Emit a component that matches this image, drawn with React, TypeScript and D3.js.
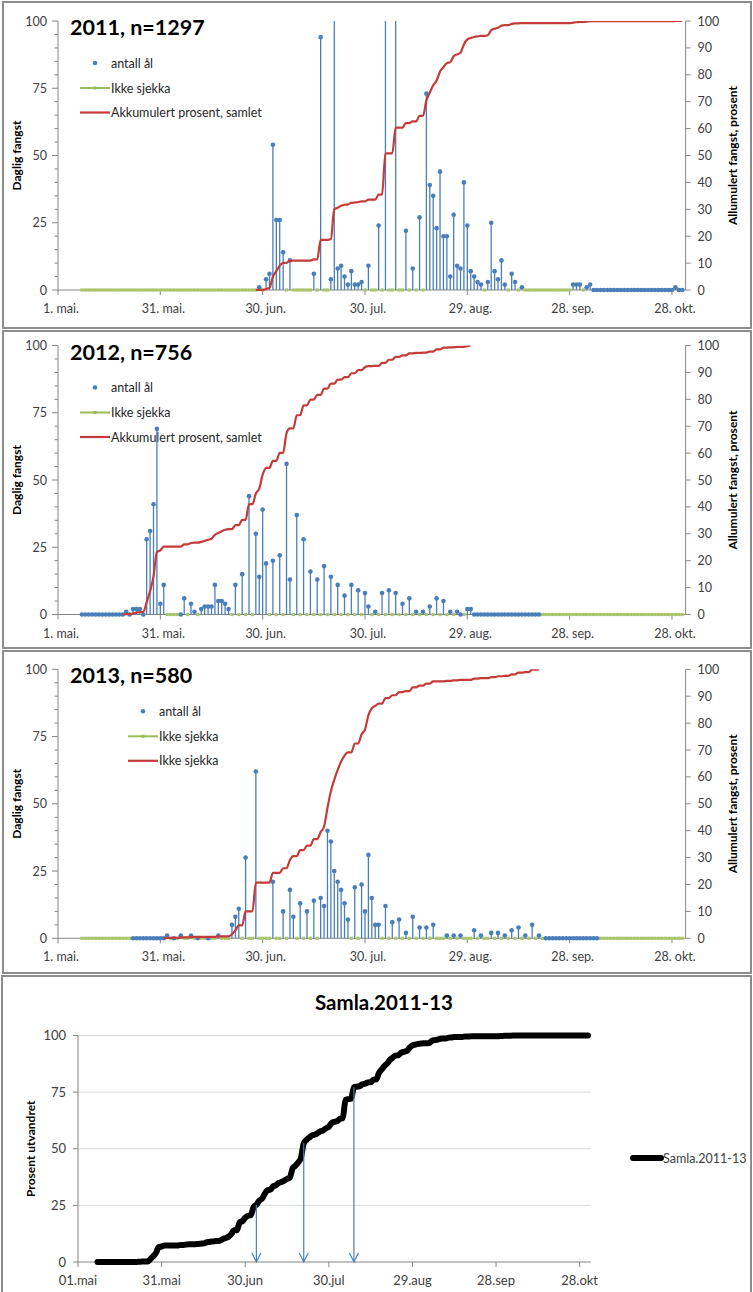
import React from 'react';
import * as d3 from 'd3';

// null = "Ikke sjekka" (trap not checked that day)
const _ = null;

// first day in every series is 8. mai (day 7 counted from 1. mai)
const FIRST_DAY = 7;

const catch2011: (number | null)[] = [
  _, _, _, _, _, _, _, _, _, _,
  _, _, _, _, _, _, _, _, _, _,
  _, _, _, _, _, _, _, _, _, _,
  _, _, _, _, _, _, _, _, _, _,
  _, _, _, _, _, _, _, _, _, _,
  _, _, 1, _, 4, 6, 54, 26, 26, 14,
  _, 11, _, _, _, _, _, _, 6, _,
  94, _, _, 4, 143, 8, 9, 5, 2, 7,
  2, 2, 3, _, 9, _, _, 24, _, 199,
  _, _, 124, _, _, 22, _, 8, _, 27,
  _, 73, 39, 35, 23, 44, 20, 20, 5, 28,
  9, 8, 40, 24, 7, 5, 3, 2, _, 3,
  25, 7, 4, 11, 2, _, 6, 3, _, 1,
  _, _, _, _, _, _, _, _, _, _,
  _, _, _, _, 2, 2, 2, _, 1, 2,
  0, 0, 0, 0, 0, 0, 0, 0, 0, 0,
  0, 0, 0, 0, 0, 0, 0, 0, 0, 0,
  0, 0, 0, 0, 1, 0, 0,
];

const catch2012: (number | null)[] = [
  0, 0, 0, 0, 0, 0, 0, 0, 0, 0,
  0, 0, 0, 1, 0, 2, 2, 2, 0, 28,
  31, 41, 69, 4, 11, _, _, _, _, 0,
  6, _, 4, 1, _, 2, 3, 3, 3, 11,
  5, 5, 4, 2, _, 11, _, 15, _, 44,
  _, 30, 14, 39, 19, _, 20, _, 22, _,
  56, 13, _, 37, _, 28, _, 16, _, 13,
  _, 18, _, 14, _, 11, _, 7, _, 11,
  _, 9, _, 8, 3, _, 1, _, 8, _,
  9, _, 8, _, 4, _, 6, _, 1, _,
  1, _, 3, _, 6, _, 5, _, 1, _,
  1, 0, _, 2, 2, 0, 0, 0, 0, 0,
  0, 0, 0, 0, 0, 0, 0, 0, 0, 0,
  0, 0, 0, 0, 0, _, _, _, _, _,
  _, _, _, _, _, _, _, _, _, _,
  _, _, _, _, _, _, _, _, _, _,
  _, _, _, _, _, _, _, _, _, _,
  _, _, _, _, _, _, _,
];

const catch2013: (number | null)[] = [
  _, _, _, _, _, _, _, _, _, _,
  _, _, _, _, _, 0, 0, 0, 0, 0,
  0, 0, 0, 0, 0, 1, _, 0, _, 1,
  _, _, 1, _, 0, _, _, 0, _, _,
  1, _, _, _, 5, 8, 11, _, 30, _,
  _, 62, _, _, _, _, 21, _, _, 10,
  _, 18, 8, _, 13, _, 10, _, 14, _,
  15, 12, 40, 36, 25, 21, 18, 13, 7, _,
  19, _, 20, 10, 31, 15, 5, 5, _, 12,
  _, 6, _, 7, _, 2, _, 8, _, 4,
  _, 4, _, 5, _, _, _, 1, _, 1,
  _, 1, _, _, _, 3, _, 1, _, _,
  2, _, 2, _, 1, _, 3, _, 4, _,
  1, _, 5, _, 1, _, 0, 0, 0, 0,
  0, 0, 0, 0, 0, 0, 0, 0, 0, 0,
  0, 0, _, _, _, _, _, _, _, _,
  _, _, _, _, _, _, _, _, _, _,
  _, _, _, _, _, _, _,
];

const yearCatches = [catch2011, catch2012, catch2013];
const panelTitles = ['2011, n=1297', '2012, n=756', '2013, n=580'];
const legendLabels = [
  ['antall ål', 'Ikke sjekka', 'Akkumulert prosent, samlet'],
  ['antall ål', 'Ikke sjekka', 'Akkumulert prosent, samlet'],
  ['antall ål', 'Ikke sjekka', 'Ikke sjekka'],
];
// last day of the red line when it runs past the last catch
const cumEndDays: (number | null)[] = [183, null, null];

const tickDates = ['05-01', '05-31', '06-30', '07-30', '08-29', '09-28', '10-28'];
const topTickLabels = ['1. mai.', '31. mai.', '30. jun.', '30. jul.', '29. aug.', '28. sep.', '28. okt.'];
const bottomTickLabels = ['01.mai', '31.mai', '30.jun', '30.jul', '29.aug', '28.sep', '28.okt'];
const leftTicks = [0, 25, 50, 75, 100];
const rightTicks = [0, 10, 20, 30, 40, 50, 60, 70, 80, 90, 100];
const quartileLevels = [25, 50, 75];

const BLUE = '#4a7ebb';
const GREEN = '#9bbb59';
const RED = '#c43b38';
const AXIS = '#868686';
const TEXT = '#404040';
const FONT = "Lato, 'Open Sans', sans-serif";

const dayDate = (d: number) => new Date(Date.UTC(2011, 4, 1 + d));
const tickDate = (s: string) => {
  const [m, d] = s.split('-').map(Number);
  return new Date(Date.UTC(2011, m - 1, d));
};

const xTop = d3.scaleUtc().domain([dayDate(0), dayDate(184)]).range([58, 58 + 184 * 3.411]);
const xBot = d3.scaleUtc().domain([dayDate(0), dayDate(184)]).range([78, 78 + 184 * 2.787]);

const panelTops = [21, 345.5, 669.3];
const PLOT_H = 269;
const legendXs = [80, 80, 128];

type Pt = { day: number; v: number | null };

function TopPanel({ idx }: { idx: number }) {
  const values = yearCatches[idx];
  const y100 = panelTops[idx];
  const y0 = y100 + PLOT_H;
  const y = d3.scaleLinear().domain([0, 100]).range([y0, y100]);
  const x = (d: number) => xTop(dayDate(d));
  const pts: Pt[] = values.map((v, i) => ({ day: FIRST_DAY + i, v }));

  const greenLine = d3.line<Pt>()
    .defined((d) => d.v === null)
    .x((d) => x(d.day))
    .y(y0);

  const total = d3.sum(values, (v) => v ?? 0);
  let run = 0;
  const cum = pts.map((p) => {
    run += p.v ?? 0;
    return { day: p.day, pct: (run / total) * 100 };
  });
  const nz = pts.filter((p) => (p.v ?? 0) > 0);
  const start = nz[0].day - 1;
  const end = cumEndDays[idx] ?? nz[nz.length - 1].day;
  const redPts = cum.filter((c) => c.day >= start && c.day <= end);
  const redLine = d3.line<{ day: number; pct: number }>()
    .x((d) => x(d.day))
    .y((d) => y(d.pct))
    .curve(d3.curveMonotoneX);

  const xAxisEnd = xTop.range()[1];
  const lx = legendXs[idx];
  const ly = [y100 + 42, y100 + 67, y100 + 91.5];
  const minor = d3.range(0, 101, 5).filter((v) => v % 25 !== 0);

  return (
    <g>
      <defs>
        <clipPath id={`clip${idx}`}>
          <rect x={40} y={y100} width={700} height={PLOT_H + 6} />
        </clipPath>
      </defs>

      {/* axes */}
      <line x1={58} x2={58} y1={y100} y2={y0} stroke={AXIS} />
      <line x1={xAxisEnd} x2={xAxisEnd} y1={y100} y2={y0} stroke={AXIS} />
      <line x1={58} x2={xAxisEnd} y1={y0} y2={y0} stroke={AXIS} />
      {leftTicks.map((t) => (
        <g key={`l${t}`}>
          <line x1={52} x2={58} y1={y(t)} y2={y(t)} stroke={AXIS} />
          <text x={47} y={y(t) + 4.5} textAnchor="end" fontSize={12.5} fill={TEXT} fontFamily={FONT}>{t}</text>
        </g>
      ))}
      {minor.map((t) => (
        <line key={`m${t}`} x1={54.5} x2={58} y1={y(t)} y2={y(t)} stroke={AXIS} />
      ))}
      {rightTicks.map((t) => (
        <g key={`r${t}`}>
          <line x1={xAxisEnd} x2={xAxisEnd + 5} y1={y(t)} y2={y(t)} stroke={AXIS} />
          <text x={xAxisEnd + 12} y={y(t) + 4.5} fontSize={12.5} fill={TEXT} fontFamily={FONT}>{t}</text>
        </g>
      ))}
      {tickDates.map((s, i) => (
        <g key={s}>
          <line x1={xTop(tickDate(s))} x2={xTop(tickDate(s))} y1={y0} y2={y0 + 5} stroke={AXIS} />
          <text x={xTop(tickDate(s)) + 3} y={y0 + 23} textAnchor="middle" fontSize={12.5} fill={TEXT} fontFamily={FONT}>
            {topTickLabels[i]}
          </text>
        </g>
      ))}
      <text transform={`translate(21,${(y0 + y100) / 2}) rotate(-90)`} textAnchor="middle" fontSize={12}
        fontWeight="bold" fill="#000" fontFamily={FONT}>Daglig fangst</text>
      <text transform={`translate(737,${(y0 + y100) / 2}) rotate(-90)`} textAnchor="middle" fontSize={12}
        fontWeight="bold" fill="#000" fontFamily={FONT}>Allumulert fangst, prosent</text>

      {/* legend */}
      <circle cx={lx + 15} cy={ly[0]} r={2.3} fill={BLUE} />
      <line x1={lx} x2={lx + 30} y1={ly[1]} y2={ly[1]} stroke={GREEN} strokeWidth={2} />
      <rect x={lx + 13.5} y={ly[1] - 1.5} width={3} height={3} fill={GREEN} />
      <line x1={lx} x2={lx + 30} y1={ly[2]} y2={ly[2]} stroke={RED} strokeWidth={2.2} />
      {legendLabels[idx].map((t, i) => (
        <text key={i} x={lx + 31} y={ly[i] + 4.5} fontSize={12.5} fill="#262626" fontFamily={FONT}>{t}</text>
      ))}

      {/* title */}
      <text x={70} y={y100 + 14} fontSize={21.5} fontWeight="bold" fill="#000" fontFamily={FONT}>{panelTitles[idx]}</text>

      {/* series */}
      <g clipPath={`url(#clip${idx})`}>
        <path d={greenLine(pts) ?? ''} fill="none" stroke={GREEN} strokeWidth={1.6} />
        {pts.filter((p) => p.v === null).map((p) => (
          <rect key={`g${p.day}`} x={x(p.day) - 1.6} y={y0 - 1.6} width={3.2} height={3.2} fill="#a9c66b" />
        ))}
        {pts.filter((p) => (p.v ?? 0) > 0).map((p) => (
          <line key={`s${p.day}`} x1={x(p.day)} x2={x(p.day)} y1={y0} y2={y(p.v as number)} stroke={BLUE} strokeWidth={1.3} />
        ))}
        {pts.filter((p) => p.v !== null).map((p) => (
          <circle key={`d${p.day}`} cx={x(p.day)} cy={y(p.v as number)} r={2.3} fill={BLUE} />
        ))}
        <path d={redLine(redPts) ?? ''} fill="none" stroke={RED} strokeWidth={2.2} strokeLinejoin="round" />
      </g>
    </g>
  );
}

function BottomPanel() {
  const y = d3.scaleLinear().domain([0, 100]).range([1262, 1035.5]);
  const x = (d: number) => xBot(dayDate(d));
  const n = yearCatches[0].length;
  const pooled = d3.range(n).map((i) => d3.sum(yearCatches, (arr) => arr[i] ?? 0));
  const total = d3.sum(pooled);
  let run = 0;
  const cum = pooled.map((v, i) => {
    run += v;
    return { day: FIRST_DAY + i, pct: (run / total) * 100 };
  });
  const line = d3.line<{ day: number; pct: number }>()
    .x((d) => x(d.day))
    .y((d) => y(d.pct))
    .curve(d3.curveMonotoneX);
  const arrows = quartileLevels.map((q) => cum.find((c) => c.pct >= q)!);
  const xEnd = xBot.range()[1];

  return (
    <g>
      <text x={384} y={1010} textAnchor="middle" fontSize={20.5} fontWeight="bold" fill="#000" fontFamily={FONT}>Samla.2011-13</text>
      {leftTicks.map((t) => (
        <g key={t}>
          {t > 0 && <line x1={78} x2={xEnd} y1={y(t)} y2={y(t)} stroke="#d9d9d9" />}
          <line x1={73} x2={78} y1={y(t)} y2={y(t)} stroke={AXIS} />
          <text x={66} y={y(t) + 4.5} textAnchor="end" fontSize={13} fill={TEXT} fontFamily={FONT}>{t}</text>
        </g>
      ))}
      <line x1={78} x2={78} y1={y(100)} y2={y(0)} stroke={AXIS} />
      <line x1={78} x2={xEnd} y1={y(0)} y2={y(0)} stroke={AXIS} />
      {tickDates.map((s, i) => (
        <g key={s}>
          <line x1={xBot(tickDate(s))} x2={xBot(tickDate(s))} y1={y(0)} y2={y(0) + 5} stroke={AXIS} />
          <text x={xBot(tickDate(s))} y={1285} textAnchor="middle" fontSize={13} fill={TEXT} fontFamily={FONT}>
            {bottomTickLabels[i]}
          </text>
        </g>
      ))}
      <text transform={`translate(35,${(y(0) + y(100)) / 2}) rotate(-90)`} textAnchor="middle" fontSize={12}
        fontWeight="bold" fill="#000" fontFamily={FONT}>Prosent utvandret</text>

      <path d={line(cum) ?? ''} fill="none" stroke="#000" strokeWidth={6} strokeLinejoin="round" strokeLinecap="round" />
      {arrows.map((a, i) => (
        <g key={i} stroke={BLUE} strokeWidth={1.2} fill="none">
          <line x1={x(a.day)} x2={x(a.day)} y1={y(a.pct)} y2={y(0)} />
          <path d={`M${x(a.day) - 4.5},${y(0) - 9} L${x(a.day)},${y(0)} L${x(a.day) + 4.5},${y(0) - 9}`} />
        </g>
      ))}

      <line x1={633} x2={661} y1={1158} y2={1158} stroke="#000" strokeWidth={6} strokeLinecap="round" />
      <text x={663} y={1162.5} fontSize={12.5} fill={TEXT} fontFamily={FONT}>Samla.2011-13</text>
    </g>
  );
}

const panelFrames = [
  [3, 2, 748, 326],
  [3, 331, 748, 317],
  [3, 651, 748, 322],
  [2, 976, 749, 320],
];

export default function App() {
  return (
    <svg width={753} height={1292} style={{ position: 'absolute', left: 0, top: 0, background: '#fff' }}>
      <rect width={753} height={1292} fill="#fff" />
      {panelFrames.map(([fx, fy, fw, fh], i) => (
        <rect key={i} x={fx} y={fy} width={fw} height={fh} fill="#fff" stroke="#8c8c8c" strokeWidth={2} />
      ))}
      {[0, 1, 2].map((i) => (
        <TopPanel key={i} idx={i} />
      ))}
      <BottomPanel />
    </svg>
  );
}
